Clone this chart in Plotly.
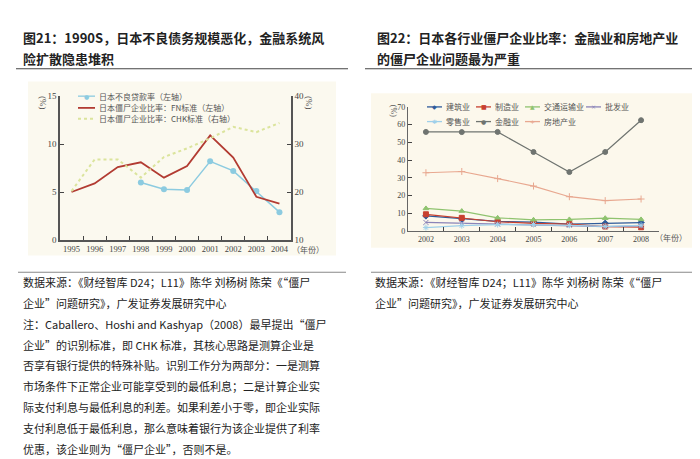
import plotly.graph_objects as go

W, H = 700, 459

# 图21：日本不良贷款率与僵尸企业比率
years_21 = ['1995', '1996', '1997', '1998', '1999', '2000', '2001', '2002', '2003', '2004']
npl_years = ['1998', '1999', '2000', '2001', '2002', '2003', '2004']
npl_rate = [6.0, 5.3, 5.2, 8.2, 7.2, 5.1, 2.9]
fn_ratio = [5.0, 5.9, 7.6, 8.1, 6.5, 7.7, 10.9, 8.6, 4.5, 3.8]
chk_ratio = [20.2, 26.8, 26.8, 23.0, 27.3, 29.1, 31.2, 33.6, 32.5, 34.4]

# 图22：日本各行业僵尸企业比率
years_22 = ['2002', '2003', '2004', '2005', '2006', '2007', '2008']
construction = [8.6, 6.9, 5.5, 5.1, 4.0, 4.4, 4.8]
manufacturing = [9.5, 7.5, 5.3, 4.4, 4.0, 2.6, 2.2]
transport = [12.8, 11.3, 7.5, 6.4, 6.6, 7.3, 6.6]
wholesale = [4.9, 4.4, 4.0, 3.7, 3.3, 2.6, 2.9]
retail = [2.0, 3.1, 3.7, 3.7, 3.3, 2.7, 3.3]
finance = [55.9, 55.8, 55.9, 44.6, 33.3, 44.6, 62.5]
real_estate = [32.9, 33.6, 29.6, 25.4, 19.4, 17.2, 18.1]

title_21 = ['图21：1990S，日本不良债务规模恶化，金融系统风', '险扩散隐患堆积']
title_22 = ['图22：日本各行业僵尸企业比率：金融业和房地产业', '的僵尸企业问题最为严重']
source_lines = ['数据来源：《财经智库 D24；L11》陈华 刘杨树 陈荣《“僵尸',
                '企业”问题研究》，广发证券发展研究中心']
note_lines = ['注：Caballero、Hoshi and Kashyap（2008）最早提出“僵尸',
              '企业”的识别标准，即 CHK 标准，其核心思路是测算企业是',
              '否享有银行提供的特殊补贴。识别工作分为两部分：一是测算',
              '市场条件下正常企业可能享受到的最低利息；二是计算企业实',
              '际支付利息与最低利息的利差。如果利差小于零，即企业实际',
              '支付利息低于最低利息，那么意味着银行为该企业提供了利率',
              '优惠，该企业则为“僵尸企业”，否则不是。']

CJK = 'Noto Sans CJK SC'
SERIF = 'Liberation Serif'


def px(x):
    return x / W


def py(y):
    return 1 - y / H


shapes = []
annotations = []


def text(x, y, s, size=11, color='#222', anchor='left', font=CJK, angle=0):
    annotations.append(dict(text=s, x=px(x), y=py(y), xref='paper', yref='paper',
                            xanchor=anchor, yanchor='middle', showarrow=False,
                            textangle=angle, font=dict(family=font, size=size, color=color)))


def hline(x0, x1, y, color, width=1, dash='solid'):
    shapes.append(dict(type='line', xref='paper', yref='paper', x0=px(x0), x1=px(x1),
                       y0=py(y), y1=py(y), line=dict(color=color, width=width, dash=dash)))


def legend_key(x, y, label, color, glyph=None, dash='solid', width=1.3, length=15, gsize=6):
    hline(x, x + length, y, color, width, dash)
    if glyph:
        text(x + length / 2, y, glyph, size=gsize, color=color, anchor='center', font='DejaVu Sans')
    text(x + length + 2, y, label, size=8, color='#555')


# 底色和分隔线
shapes.append(dict(type='rect', xref='paper', yref='paper', x0=px(20), x1=px(328),
                    y0=py(248), y1=py(70), fillcolor='#fbf9ef', line=dict(width=0), layer='below'))
shapes.append(dict(type='rect', xref='paper', yref='paper', x0=px(363), x1=px(688),
                    y0=py(240), y1=py(82), fillcolor='#fcf8ec', line=dict(width=0), layer='below'))
hline(8, 340, 57, '#444', 1.2)
hline(357, 697, 57, '#444', 1.2)
hline(10, 338, 265, '#888', 1.2)
hline(363, 695, 265, '#888', 1.2)

# 标题
for i, s in enumerate(title_21):
    text(13, 25 + 22 * i, '<b>' + s + '</b>', size=13, color='#222')
for i, s in enumerate(title_22):
    text(367, 25 + 22 * i, '<b>' + s + '</b>', size=13, color='#222')

# 注释
for i, s in enumerate(source_lines + note_lines):
    text(13, 275 + 21.3 * i, s, size=11, color='#222')
for i, s in enumerate(source_lines):
    text(365, 275 + 21.3 * i, s, size=11, color='#222')

fig = go.Figure()

# 图21
fig.add_trace(go.Scatter(x=npl_years, y=npl_rate, mode='lines+markers', xaxis='x', yaxis='y',
                         line=dict(color='#8ccbe0', width=1.5),
                         marker=dict(color='#8ccbe0', size=6, symbol='circle')))
fig.add_trace(go.Scatter(x=years_21, y=fn_ratio, mode='lines', xaxis='x', yaxis='y',
                         line=dict(color='#b23b32', width=1.8)))
fig.add_trace(go.Scatter(x=years_21, y=chk_ratio, mode='lines', xaxis='x', yaxis='y2',
                         line=dict(color='#dbe49c', width=2, dash='dot')))

legend_key(70, 85, '日本不良贷款率（左轴）', '#8ccbe0', glyph='●', length=17)
legend_key(70, 97, '日本僵尸企业比率：FN标准（左轴）', '#b23b32', width=1.8, length=17)
legend_key(70, 108, '日本僵尸企业比率：CHK标准（右轴）', '#dbe49c', dash='dot', width=2, length=17)
text(35, 92, '(%)', size=9, color='#555', anchor='center', font=SERIF, angle=90)
text(301, 92, '(%)', size=9, color='#555', anchor='center', font=SERIF, angle=90)
text(300, 242, '（年份）', size=8, color='#555', anchor='center')

# 图22
series_22 = [
    ('建筑业', construction, '#2f5b9b', 'diamond', '◆'),
    ('制造业', manufacturing, '#c8402f', 'square', '■'),
    ('交通运输业', transport, '#8fc36f', 'triangle-up', '▲'),
    ('批发业', wholesale, '#8b84b8', 'x-thin-open', '×'),
    ('零售业', retail, '#9fd0ea', 'asterisk-open', '✱'),
    ('金融业', finance, '#6f7470', 'circle', '●'),
    ('房地产业', real_estate, '#e8a890', 'cross-thin-open', '+'),
]
key_pos = [(419, 96), (468, 96), (517, 96), (578, 96), (419, 111), (468, 111), (517, 111)]
for (name, vals, color, sym, glyph), (kx, ky) in zip(series_22, key_pos):
    fig.add_trace(go.Scatter(x=years_22, y=vals, mode='lines+markers', xaxis='x2', yaxis='y3',
                             line=dict(color=color, width=1.2),
                             marker=dict(color=color, size=5, symbol=sym, line=dict(color=color, width=1))))
    legend_key(kx, ky, name, color, glyph=glyph, length=15)

text(385, 100, '(%)', size=8, color='#555', anchor='center', font=SERIF, angle=90)
text(663, 229, '（年份）', size=8, color='#555', anchor='center')

axis_common = dict(showgrid=False, zeroline=False, showline=True, ticks='inside', ticklen=4,
                   tickangle=0, tickfont=dict(family=SERIF, size=9, color='#444'))

fig.update_layout(
    width=W, height=H,
    margin=dict(l=0, r=0, t=0, b=0),
    paper_bgcolor='white', plot_bgcolor='rgba(0,0,0,0)',
    showlegend=False,
    xaxis=dict(axis_common, type='category', categoryorder='array', categoryarray=years_21,
               range=[-0.5, 9.5], domain=[px(52), px(283)], anchor='y', tickson='boundaries',
               linecolor='#555', linewidth=1.5, tickfont=dict(family=SERIF, size=8.5, color='#444')),
    yaxis=dict(axis_common, range=[0, 15], tickvals=[0, 5, 10, 15],
               domain=[py(232), py(85)], anchor='x', linecolor='#555', linewidth=1.5),
    yaxis2=dict(axis_common, range=[10, 40], tickvals=[10, 20, 30, 40], overlaying='y',
                side='right', anchor='x', linecolor='#555', linewidth=1.5),
    xaxis2=dict(axis_common, type='category', categoryorder='array', categoryarray=years_22,
                range=[-0.5, 6.5], domain=[px(400), px(651)], anchor='y3', tickson='boundaries',
                linecolor='#666', linewidth=1.2, tickfont=dict(family=SERIF, size=8, color='#444')),
    yaxis3=dict(axis_common, range=[0, 70], dtick=10, domain=[py(223), py(96)], anchor='x2',
                linecolor='#666', linewidth=1.2, tickfont=dict(family=SERIF, size=8, color='#444')),
    shapes=shapes,
    annotations=annotations,
)

fig.write_html("out.html")
